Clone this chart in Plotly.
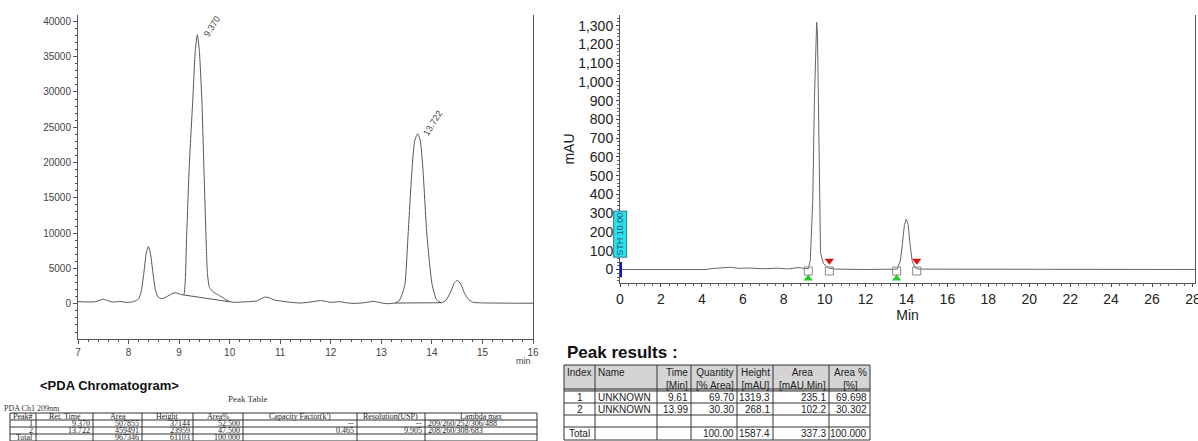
import plotly.graph_objects as go

# --- left chromatogram (PDA Ch1) ---
pda_time = [7.00, 7.20, 7.35, 7.50, 7.60, 7.70, 7.83, 7.95, 8.06, 8.15, 8.20, 8.25, 8.30, 8.35, 8.39,
            8.43, 8.48, 8.53, 8.58, 8.64, 8.70, 8.78, 8.88, 8.94, 9.02, 9.09, 9.15, 9.20, 9.27, 9.32,
            9.36, 9.40, 9.45, 9.49, 9.53, 9.56, 9.60, 9.67, 9.74, 9.81, 9.90, 10.00, 10.10, 10.25,
            10.40, 10.53, 10.62, 10.70, 10.78, 10.90, 11.00, 11.15, 11.39, 11.60, 11.79, 11.90, 11.98,
            12.10, 12.18, 12.30, 12.44, 12.60, 12.75, 12.84, 12.95, 13.10, 13.27, 13.35, 13.42, 13.47,
            13.53, 13.61, 13.66, 13.72, 13.77, 13.82, 13.90, 14.00, 14.09, 14.19, 14.28, 14.36, 14.44,
            14.50, 14.57, 14.65, 14.74, 14.82, 15.00, 15.28, 15.60, 16.00]
pda_signal = [300, 250, 300, 650, 400, 250, 320, 200, 250, 450, 700, 1700, 4200, 7200, 8100,
              7300, 4500, 2000, 1000, 750, 800, 1100, 1500, 1550, 1350, 1250, 9900, 19400, 28800, 35900,
              38100, 35900, 28800, 19400, 9900, 4300, 2300, 1700, 1400, 1100, 700, 300, 200, 250,
              300, 400, 700, 950, 850, 500, 400, 250, 100, 250, 450, 350, 200,
              250, 300, 150, 60, 100, 250, 350, 200, 20, 100, 400, 1500, 2900,
              9900, 19400, 23100, 24100, 23100, 19400, 9900, 2900, 600, 150, 500, 1500, 2900,
              3300, 2800, 1400, 500, 200, 120, 100, 80, 80]
base1_time = [9.09, 10.00]
base1_signal = [1250, 280]
base2_time = [13.27, 14.19]
base2_signal = [100, 150]
pda_peak_label = ["9.370", "13.722"]
pda_label_pos = [(9.65, 39400), (14.02, 25600)]

# --- right chromatogram (mAU) ---
uv_time = [0.0, 4.2, 4.5, 5.0, 5.4, 5.8, 6.3, 7.0, 7.7, 8.2, 8.7, 9.0, 9.2, 9.30, 9.42, 9.50, 9.57,
           9.61, 9.65, 9.69, 9.74, 9.80, 9.94, 10.18, 10.5, 12.0, 13.55, 13.70, 13.80, 13.90, 13.99,
           14.08, 14.18, 14.28, 14.42, 14.60, 28.1]
uv_signal = [0, 0, 5, 8, 12, 6, 8, 4, 7, 3, 10, 6, 4, 50, 370, 900, 1260,
             1319, 1260, 900, 370, 90, 32, 8, 2, 0, 2, 45, 135, 240, 268,
             240, 130, 45, 10, 2, 0]
start_time = [9.20, 13.52]
end_time = [10.23, 14.50]

# --- tables ---
pda_cols = ["Peak#", "Ret. Time", "Area", "Height", "Area%", "Capacity Factor(k')", "Resolution(USP)", "Lambda max"]
pda_rows = [
    ["1", "9.370", "507855", "37144", "52.500", "--", "--", "209/260/252/306/488"],
    ["2", "13.722", "459491", "23959", "47.500", "0.465", "9.905", "208/260/308/683"],
    ["Total", "", "967346", "61103", "100.000", "", "", ""],
]
res_cols = ["Index", "Name", "Time<br>[Min]", "Quantity<br>[% Area]", "Height<br>[mAU]", "Area<br>[mAU.Min]", "Area %<br>[%]"]
res_rows = [
    ["1", "UNKNOWN", "9.61", "69.70", "1319.3", "235.1", "69.698"],
    ["2", "UNKNOWN", "13.99", "30.30", "268.1", "102.2", "30.302"],
    ["", "", "", "", "", "", ""],
    ["Total", "", "", "100.00", "1587.4", "337.3", "100.000"],
]

W, H = 1198, 441
def px(x):
    return x / W
def py(y):
    return 1 - y / H

fig = go.Figure()
line_c = "#555555"

fig.add_trace(go.Scatter(x=pda_time, y=pda_signal, mode="lines", line=dict(color=line_c, width=1, shape="spline", smoothing=0.5),
                         xaxis="x", yaxis="y", showlegend=False))
for bx, by in [(base1_time, base1_signal), (base2_time, base2_signal)]:
    fig.add_trace(go.Scatter(x=bx, y=by, mode="lines", line=dict(color=line_c, width=1), xaxis="x", yaxis="y", showlegend=False))

fig.add_trace(go.Scatter(x=uv_time, y=uv_signal, mode="lines", line=dict(color="#666666", width=1),
                         xaxis="x2", yaxis="y2", showlegend=False))
# start / end markers
fig.add_trace(go.Scatter(x=start_time + end_time, y=[-8] * 4, mode="markers",
                         marker=dict(symbol="square-open", size=8, color="#888888", line=dict(width=1)),
                         xaxis="x2", yaxis="y2", showlegend=False, cliponaxis=False))
fig.add_trace(go.Scatter(x=start_time, y=[-48, -48], mode="markers",
                         marker=dict(symbol="triangle-up", size=8, color="#22cc22"),
                         xaxis="x2", yaxis="y2", showlegend=False, cliponaxis=False))
fig.add_trace(go.Scatter(x=end_time, y=[46, 46], mode="markers",
                         marker=dict(symbol="triangle-down", size=8, color="#dd1111"),
                         xaxis="x2", yaxis="y2", showlegend=False, cliponaxis=False))
fig.add_trace(go.Scatter(x=[0, 0], y=[-42, 40], mode="lines", line=dict(color="#1515c8", width=4),
                         xaxis="x2", yaxis="y2", showlegend=False, cliponaxis=False))


def draw_table(xs, ys, header, rows, aligns, font, head_fill=None, head_aligns=None, head_top=False, double=False):
    # grid lines
    if head_fill:
        fig.add_shape(type="rect", xref="paper", yref="paper", x0=px(xs[0]), x1=px(xs[-1]), y0=py(ys[0]), y1=py(ys[1]),
                      fillcolor=head_fill, line_width=0, layer="below")
    for yy in ys:
        fig.add_shape(type="line", xref="paper", yref="paper", x0=px(xs[0]), x1=px(xs[-1]), y0=py(yy), y1=py(yy),
                      line=dict(color="#333", width=1))
    if double:
        fig.add_shape(type="line", xref="paper", yref="paper", x0=px(xs[0]), x1=px(xs[-1]), y0=py(ys[1] - 2), y1=py(ys[1] - 2),
                      line=dict(color="#333", width=1))
    for xx in xs:
        fig.add_shape(type="line", xref="paper", yref="paper", x0=px(xx), x1=px(xx), y0=py(ys[0]), y1=py(ys[-1]),
                      line=dict(color="#333", width=1))
    all_rows = [header] + rows
    for r, row in enumerate(all_rows):
        al = (head_aligns or aligns) if r == 0 else aligns
        for c, txt in enumerate(row):
            if not txt:
                continue
            a = al[c]
            if a == "left":
                x, xa = xs[c] + 2, "left"
            elif a == "right":
                x, xa = xs[c + 1] - 2, "right"
            else:
                x, xa = (xs[c] + xs[c + 1]) / 2, "center"
            if r == 0 and head_top:
                y, ya = ys[0] + 1, "top"
            else:
                y, ya = (ys[r] + ys[r + 1]) / 2, "middle"
            fig.add_annotation(x=px(x), y=py(y), xref="paper", yref="paper", text=txt, showarrow=False,
                               xanchor=xa, yanchor=ya, borderpad=0, font=font)


serif = dict(family="Liberation Serif", size=8, color="#222")
draw_table([10, 36, 93, 142, 193, 243, 357, 425, 537], [413, 420, 427, 434, 441],
           pda_cols, pda_rows, ["right"] * 7 + ["left"], serif, head_aligns=["center"] * 8)
draw_table([564, 595, 657, 691, 737, 773, 829, 870], [365, 391, 403, 415, 427, 440],
           res_cols, res_rows, ["center", "left", "right", "right", "right", "right", "right"],
           dict(family="Arial", size=10, color="#222"), head_fill="#d4d4d4",
           head_aligns=["left", "left", "right", "right", "right", "right", "right"], head_top=True, double=True)

ax_common = dict(showgrid=False, zeroline=False, showline=True, linecolor=line_c, linewidth=1, automargin=False,
                 ticklabeloverflow="allow")
fig.update_layout(
    width=W, height=H, margin=dict(l=0, r=0, t=0, b=0),
    paper_bgcolor="white", plot_bgcolor="white",
    font=dict(family="Arial"),
    xaxis=dict(domain=[px(78), px(533)], range=[7, 16], dtick=1, anchor="y",
               ticks="outside", ticklen=4, tickcolor=line_c,
               minor=dict(dtick=0.2, ticks="outside", ticklen=2, tickcolor=line_c),
               tickfont=dict(size=10, color="#444"), **ax_common),
    yaxis=dict(domain=[py(339), py(15)], range=[-4990, 40900], dtick=5000, tickformat="d", anchor="x", mirror=True,
               ticks="outside", ticklen=4, tickcolor=line_c,
               minor=dict(dtick=1000, ticks="outside", ticklen=2, tickcolor=line_c),
               tickfont=dict(size=10, color="#444"), **ax_common),
    xaxis2=dict(domain=[px(620), px(1195)], range=[0, 28.1], dtick=2, anchor="y2",
                ticks="outside", ticklen=3, tickcolor="#444",
                minor=dict(dtick=0.4, ticks="outside", ticklen=2, tickcolor="#666"),
                title=dict(text="Min", font=dict(size=14, color="#222"), standoff=0),
                tickfont=dict(size=14, color="#222"), **ax_common),
    yaxis2=dict(domain=[py(283), py(15)], range=[-72, 1357], dtick=100, tickformat=",", anchor="x2", mirror=True,
                ticks="outside", ticklen=3, tickcolor="#444",
                minor=dict(dtick=20, ticks="outside", ticklen=2, tickcolor="#666"),
                title=dict(text="mAU", font=dict(size=14, color="#222"), standoff=0),
                tickfont=dict(size=14, color="#222"), **ax_common),
)

for (lx, ly), lab in zip(pda_label_pos, pda_peak_label):
    fig.add_annotation(x=lx, y=ly, xref="x", yref="y", text=lab, showarrow=False, textangle=-58,
                       font=dict(size=9, color="#444"))
fig.add_annotation(x=16, y=-4990, xref="x", yref="y", text="min", showarrow=False, xanchor="right", yanchor="top",
                   yshift=-15, font=dict(size=9, color="#444"))
fig.add_annotation(x=0.02, y=188, xref="x2", yref="y2", text="STH 10.00", showarrow=False, textangle=-90,
                   bgcolor="#30e0e8", bordercolor="#208090", borderwidth=1, borderpad=1,
                   font=dict(size=9, color="#1a5a70"))

fig.add_annotation(x=px(38), y=py(385), xref="paper", yref="paper", text="<b>&lt;PDA Chromatogram&gt;</b>",
                   showarrow=False, xanchor="left", yanchor="middle", font=dict(size=13, color="#111"))
fig.add_annotation(x=px(247), y=py(399), xref="paper", yref="paper", text="Peak Table",
                   showarrow=False, xanchor="center", yanchor="middle", font=dict(family="Liberation Serif", size=9, color="#333"))
fig.add_annotation(x=px(2), y=py(408), xref="paper", yref="paper", text="PDA Ch1 209nm",
                   showarrow=False, xanchor="left", yanchor="middle", font=dict(family="Liberation Serif", size=8, color="#333"))
fig.add_annotation(x=px(565), y=py(352), xref="paper", yref="paper", text="<b>Peak results :</b>",
                   showarrow=False, xanchor="left", yanchor="middle", font=dict(size=17, color="#111"))

# the page's default body margin would push the figure 8px down and right
fig.write_html("out.html", config={"displayModeBar": False}, post_script="document.body.style.margin='0';")
